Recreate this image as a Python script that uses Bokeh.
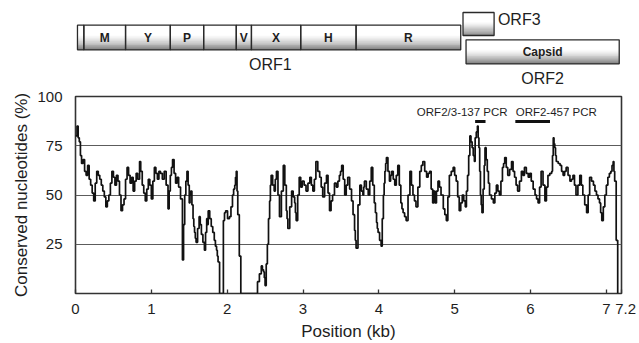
from bokeh.plotting import figure
from bokeh.layouts import column
from bokeh.models import Range1d, FixedTicker, CustomJSTickFormatter
from bokeh.core.properties import value
from bokeh.embed import file_html
from bokeh.resources import INLINE

# ---------------- data ----------------
# genome map (kb)
orf1_bounds = [0.026, 0.11, 0.66, 1.25, 1.69, 2.12, 2.32, 2.97, 3.70, 5.08]
orf1_domains = ["", "M", "Y", "P", "", "V", "X", "H", "R"]
orf3_span = [5.11, 5.52]
orf2_span = [5.15, 7.17]

# PCR amplicons
amplicon_names = ["ORF2/3-137 PCR", "ORF2-457 PCR"]
amplicon_start_kb = [5.27, 5.80]
amplicon_len_nt = [137, 457]

# conservation profile (position in kb, % conserved nucleotides)
pos_kb = [
    0.00, 0.02, 0.035, 0.05, 0.065, 0.08, 0.10, 0.12, 0.14, 0.16,
    0.18, 0.20, 0.22, 0.24, 0.26, 0.28, 0.30, 0.32, 0.34, 0.36,
    0.38, 0.40, 0.42, 0.44, 0.46, 0.48, 0.50, 0.52, 0.54, 0.56,
    0.58, 0.60, 0.62, 0.64, 0.66, 0.68, 0.70, 0.72, 0.74, 0.76,
    0.78, 0.80, 0.82, 0.845, 0.86, 0.88, 0.90, 0.92, 0.94, 0.96,
    0.98, 1.00, 1.02, 1.04, 1.06, 1.08, 1.10, 1.12, 1.145, 1.17,
    1.195, 1.22, 1.235, 1.25, 1.265, 1.28, 1.30, 1.32, 1.34, 1.36,
    1.385, 1.41, 1.425, 1.44, 1.455, 1.47, 1.485, 1.50, 1.51, 1.52,
    1.535, 1.55, 1.56, 1.57, 1.58, 1.59, 1.61, 1.63, 1.645, 1.66,
    1.68, 1.70, 1.715, 1.73, 1.74, 1.75, 1.77, 1.79, 1.81, 1.83,
    1.845, 1.86, 1.87, 1.88, 1.90, 1.95, 1.965, 1.98, 2.005, 2.03,
    2.05, 2.07, 2.085, 2.10, 2.11, 2.12, 2.13, 2.14, 2.16, 2.18,
    2.40, 2.425, 2.45, 2.465, 2.48, 2.49, 2.50, 2.515, 2.53, 2.545,
    2.56, 2.57, 2.58, 2.60, 2.62, 2.635, 2.65, 2.67, 2.69, 2.715,
    2.74, 2.76, 2.78, 2.79, 2.80, 2.825, 2.85, 2.87, 2.89, 2.90,
    2.91, 2.93, 2.95, 2.97, 2.99, 3.015, 3.04, 3.065, 3.09, 3.11,
    3.13, 3.15, 3.17, 3.195, 3.22, 3.24, 3.26, 3.285, 3.31, 3.33,
    3.35, 3.37, 3.39, 3.415, 3.44, 3.46, 3.48, 3.495, 3.51, 3.53,
    3.55, 3.57, 3.59, 3.615, 3.64, 3.66, 3.68, 3.69, 3.70, 3.725,
    3.75, 3.77, 3.79, 3.80, 3.81, 3.835, 3.86, 3.88, 3.90, 3.92,
    3.94, 3.955, 3.97, 3.98, 3.99, 4.01, 4.03, 4.045, 4.06, 4.07,
    4.08, 4.09, 4.10, 4.12, 4.14, 4.155, 4.17, 4.19, 4.21, 4.23,
    4.25, 4.27, 4.29, 4.305, 4.32, 4.34, 4.36, 4.385, 4.41, 4.43,
    4.45, 4.47, 4.49, 4.515, 4.54, 4.56, 4.58, 4.605, 4.63, 4.65,
    4.67, 4.69, 4.71, 4.725, 4.74, 4.76, 4.78, 4.80, 4.82, 4.85,
    4.87, 4.89, 4.91, 4.93, 4.955, 4.98, 5.00, 5.02, 5.04, 5.06,
    5.08, 5.10, 5.12, 5.14, 5.155, 5.17, 5.185, 5.20, 5.215, 5.23,
    5.245, 5.26, 5.27, 5.285, 5.30, 5.31, 5.32, 5.33, 5.34, 5.35,
    5.36, 5.375, 5.39, 5.40, 5.415, 5.43, 5.445, 5.46, 5.485, 5.51,
    5.53, 5.55, 5.57, 5.59, 5.61, 5.63, 5.645, 5.66, 5.68, 5.70,
    5.725, 5.75, 5.77, 5.79, 5.81, 5.83, 5.855, 5.88, 5.90, 5.92,
    5.945, 5.97, 5.99, 6.01, 6.035, 6.06, 6.08, 6.10, 6.12, 6.14,
    6.165, 6.19, 6.21, 6.23, 6.255, 6.28, 6.29, 6.30, 6.31, 6.32,
    6.33, 6.34, 6.365, 6.39, 6.41, 6.43, 6.45, 6.47, 6.495, 6.52,
    6.54, 6.56, 6.58, 6.60, 6.625, 6.65, 6.67, 6.69, 6.715, 6.74,
    6.76, 6.78, 6.805, 6.83, 6.85, 6.87, 6.89, 6.91, 6.925, 6.94,
    6.96, 6.98, 7.00, 7.02, 7.04, 7.06, 7.075, 7.09, 7.10, 7.11,
    7.13, 7.15]
cons_pct = [
    80, 85, 79, 77, 70, 66, 68, 62, 60, 65,
    58, 55, 51, 47, 56, 62, 60, 58, 55, 52,
    49, 44, 47, 50, 56, 62, 59, 55, 60, 57,
    50, 42, 45, 48, 58, 64, 60, 56, 59, 52,
    57, 61, 58, 67, 62, 55, 51, 47, 53, 58,
    55, 48, 57, 64, 61, 58, 62, 61, 58, 62,
    55, 43, 52, 60, 64, 68, 61, 56, 59, 54,
    48, 17, 35, 50, 57, 62, 55, 46, 50, 52,
    45, 38, 34, 31, 28, 26, 33, 39, 35, 30,
    26, 22, 31, 38, 35, 42, 38, 34, 31, 27,
    24, 22, 19, 16, 0, 37, 41, 42, 38, 39,
    44, 50, 53, 55, 59, 62, 52, 40, 19, 0,
    6, 10, 14, 12, 11, 8, 4, 15, 25, 38,
    47, 55, 60, 55, 52, 58, 62, 50, 39, 52,
    65, 55, 42, 38, 33, 44, 52, 49, 46, 41,
    37, 50, 59, 54, 57, 55, 52, 56, 59, 55,
    52, 58, 67, 62, 59, 54, 49, 56, 60, 51,
    42, 47, 50, 56, 54, 57, 60, 62, 65, 58,
    50, 55, 59, 53, 47, 40, 32, 27, 23, 45,
    55, 52, 50, 54, 57, 53, 50, 57, 64, 55,
    46, 41, 36, 33, 31, 27, 24, 38, 50, 56,
    62, 66, 69, 62, 57, 60, 62, 58, 55, 60,
    65, 55, 46, 43, 41, 39, 37, 50, 62, 55,
    50, 47, 44, 54, 62, 65, 67, 62, 59, 61,
    62, 53, 46, 52, 46, 52, 57, 54, 50, 43,
    40, 37, 49, 60, 62, 64, 60, 57, 49, 42,
    46, 50, 47, 44, 52, 60, 70, 80, 77, 74,
    70, 67, 79, 82, 85, 79, 74, 62, 50, 45,
    41, 53, 65, 74, 68, 62, 56, 50, 48, 46,
    51, 55, 52, 50, 57, 64, 66, 69, 64, 60,
    63, 67, 62, 59, 55, 52, 57, 62, 60, 64,
    61, 59, 61, 57, 53, 50, 48, 46, 54, 62,
    55, 47, 54, 60, 61, 62, 70, 79, 76, 74,
    70, 67, 66, 65, 62, 60, 62, 64, 60, 57,
    58, 60, 55, 50, 55, 60, 55, 50, 45, 41,
    50, 59, 57, 55, 52, 50, 48, 46, 41, 37,
    44, 50, 55, 59, 61, 62, 65, 67, 62, 57,
    27, 0]

x_ticks = [0, 1, 2, 3, 4, 5, 6, 7, 7.2]
y_ticks = [25, 50, 75, 100]

FONT = "Liberation Sans"
TXT = "#1e1e1e"
LINE = "#2a2a2a"

# ---------------- genome map ----------------
top = figure(width=639, height=88, x_range=Range1d(0, 7.2), y_range=Range1d(88, 0),
             output_backend="svg", toolbar_location=None,
             min_border_left=75, min_border_right=18, min_border_top=0, min_border_bottom=0,
             x_axis_type=None, y_axis_type=None)
top.grid.visible = False
top.outline_line_color = None


def shaded_box(fig, x0, x1, ytop, ybot, n=14):
    h = ybot - ytop
    start = ytop + 0.4 * h
    strip = (ybot - start) / n
    lefts, rights, tops, bots, cols = [], [], [], [], []
    for k in range(n):
        t = (k + 0.5) / n
        g = int(255 - (255 - 125) * t ** 1.3)
        lefts.append(x0); rights.append(x1)
        tops.append(start + k * strip); bots.append(start + (k + 1) * strip + 0.3)
        cols.append("#%02x%02x%02x" % (g, g, g))
    fig.quad(left=[x0], right=[x1], top=[ytop], bottom=[ybot], fill_color="white", line_color=None)
    fig.quad(left=lefts, right=rights, top=tops, bottom=bots, fill_color=cols, line_color=None)


# ORF1
shaded_box(top, orf1_bounds[0], orf1_bounds[-1], 24.7, 49.3)
top.quad(left=orf1_bounds[:-1], right=orf1_bounds[1:], top=24.7, bottom=49.3,
         fill_color=None, line_color=LINE, line_width=1.3)
centers = [(a + b) / 2 for a, b in zip(orf1_bounds[:-1], orf1_bounds[1:])]
top.text(x=centers, y=[37.5] * len(centers), text=orf1_domains, text_align="center",
         text_baseline="middle", text_font=value(FONT), text_font_style="bold",
         text_font_size="12px", text_color=TXT)
top.text(x=[2.57], y=[64], text=["ORF1"],
         text_align="center", text_baseline="middle", text_font=value(FONT),
         text_font_size="16px", text_color=TXT)

# ORF3
shaded_box(top, orf3_span[0], orf3_span[1], 12, 35)
top.quad(left=[orf3_span[0]], right=[orf3_span[1]], top=12, bottom=35,
         fill_color=None, line_color=LINE, line_width=1.3)
top.text(x=[orf3_span[1] + 0.05], y=[19], text=["ORF3"], text_align="left",
         text_baseline="middle", text_font=value(FONT), text_font_size="16px", text_color=TXT)

# ORF2
shaded_box(top, orf2_span[0], orf2_span[1], 39.3, 63.3)
top.quad(left=[orf2_span[0]], right=[orf2_span[1]], top=39.3, bottom=63.3,
         fill_color=None, line_color=LINE, line_width=1.3)
top.text(x=[(orf2_span[0] + orf2_span[1]) / 2], y=[51], text=["Capsid"], text_align="center",
         text_baseline="middle", text_font=value(FONT), text_font_style="bold",
         text_font_size="12px", text_color=TXT)
top.text(x=[(orf2_span[0] + orf2_span[1]) / 2], y=[78], text=["ORF2"], text_align="center",
         text_baseline="middle", text_font=value(FONT), text_font_size="16px", text_color=TXT)

# ---------------- conservation plot ----------------
p = figure(width=639, height=255, x_range=Range1d(0, 7.2), y_range=Range1d(0, 100),
           output_backend="svg", toolbar_location=None,
           min_border_left=75, min_border_right=18, min_border_top=8, min_border_bottom=45)

p.xgrid.visible = False
p.ygrid.ticker = FixedTicker(ticks=[25, 50, 75])
p.ygrid.grid_line_color = "#5c5c5c"
p.ygrid.grid_line_width = 1.1
p.outline_line_color = "#333333"
p.outline_line_width = 1.6
p.outline_line_alpha = 1

p.step(pos_kb, cons_pct, mode="after", line_color="#111111", line_width=1.7)

amp_end = [s + n / 1000 for s, n in zip(amplicon_start_kb, amplicon_len_nt)]
p.segment(x0=amplicon_start_kb, y0=[87.3] * 2, x1=amp_end, y1=[87.3] * 2,
          line_color="#111111", line_width=3.2)
p.text(x=[5.10, 6.34], y=[92, 92], text=amplicon_names, text_align="center",
       text_baseline="middle", text_font=value(FONT), text_font_size="11.5px", text_color=TXT)

p.xaxis.ticker = FixedTicker(ticks=x_ticks)
p.xaxis.formatter = CustomJSTickFormatter(
    code="var r = Math.round(tick*10)/10; return (r % 1 === 0) ? r.toString() : '\\u00a0\\u00a0' + r.toString();")
p.xaxis.major_tick_in = 4
p.xaxis.major_tick_out = 0
p.xaxis.major_tick_line_color = "#333333"
p.xaxis.major_tick_line_width = 1.3
p.xaxis.minor_tick_line_color = None
p.xaxis.axis_line_color = None
p.xaxis.major_label_standoff = 6
p.xaxis.axis_label = "Position (kb)"
p.xaxis.axis_label_standoff = 2

p.yaxis.ticker = FixedTicker(ticks=y_ticks)
p.yaxis.major_tick_line_color = None
p.yaxis.minor_tick_line_color = None
p.yaxis.axis_line_color = None
p.yaxis.major_label_standoff = 7
p.yaxis.axis_label = "Conserved nucleotides (%)"
p.yaxis.axis_label_standoff = 3

for ax in (p.xaxis, p.yaxis):
    ax.major_label_text_font = FONT
    ax.major_label_text_font_size = "15px"
    ax.major_label_text_color = TXT
    ax.axis_label_text_font = FONT
    ax.axis_label_text_font_size = "17px"
    ax.axis_label_text_font_style = "normal"
    ax.axis_label_text_color = TXT

layout = column(top, p, spacing=0)
open("out.html", "w").write(file_html(layout, INLINE))
